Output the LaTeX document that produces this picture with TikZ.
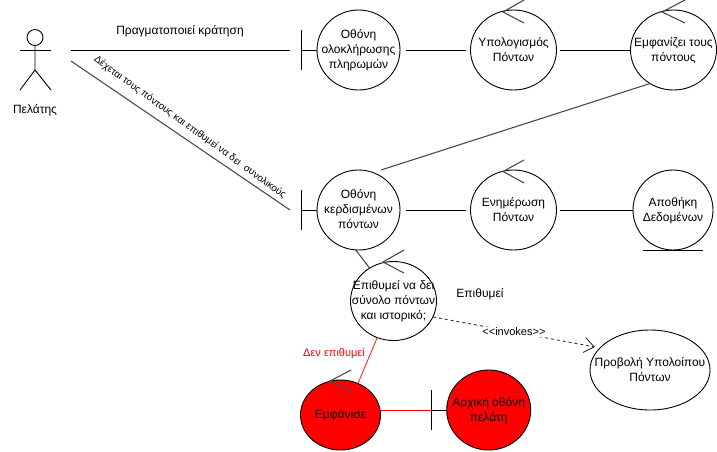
\documentclass[tikz,border=0pt]{standalone}
\usepackage{fontspec}
\setmainfont{Liberation Sans}
\usepackage{tikz}
\usetikzlibrary{arrows.meta,shapes.geometric}
\newcommand{\ctxt}[1]{\makebox[0pt]{\smash{\raisebox{-3.6pt}{\begin{tabular}{@{}c@{}}#1\end{tabular}}}}}
\tikzset{
    lbl/.style={inner sep=0pt, align=center, font=\fontsize{12}{15}\selectfont},
    ctrl/.style={draw, ellipse, inner sep=0pt, outer sep=0pt, minimum width=86pt, minimum height=80pt, font=\fontsize{12}{15}\selectfont},
    lnk/.style={line width=1.1pt, black!70},
    redfill/.style={fill=red}
}
\begin{document}
\begin{tikzpicture}[x=1pt,y=-1pt,line width=0.9pt]
    \useasboundingbox (0,0) rectangle (717,451);
    % actor
    \draw (35,37.5) circle (8);
    \coordinate (neck) at (35,46);
    \coordinate (hip) at (35,70);
    \draw (neck) -- (hip) -- (20,90);
    \draw (hip) -- (51,90);
    \draw (20,50) -- (51,50);
    \node[lbl] (pelatis) at (35,110.5) {Πελάτης};
    % top row
    \node[ctrl, minimum width=83pt] (oloklirosi) at (358.5,50) {\ctxt{Οθόνη\\ολοκλήρωσης\\πληρωμών}};
    \node[ctrl] (ypologismos) at (513.5,50) {\ctxt{Υπολογισμός\\Πόντων}};
    \node[ctrl] (emfanizei) at (673.5,50) {\ctxt{Εμφανίζει τους\\πόντους}};
    % second row
    \node[ctrl, minimum width=83pt] (kerdismena) at (358.5,210) {\ctxt{Οθόνη\\κερδισμένων\\πόντων}};
    \node[ctrl] (enimerosi) at (513.5,210) {\ctxt{Ενημέρωση\\Πόντων}};
    \node[ctrl, minimum width=80pt] (apothiki) at (673,210) {\ctxt{Αποθήκη\\Δεδομένων}};
    % lower part
    \node[ctrl, minimum height=79pt] (epithymei) at (393.5,301) {\ctxt{Επιθυμεί να δει\\σύνολο πόντων\\και ιστορικό;}};
    \node[ctrl, minimum width=120pt] (provoli) at (650,370) {\ctxt{Προβολή Υπολοίπου\\Πόντων}};
    \node[ctrl, redfill, minimum width=80pt, minimum height=70pt] (emfanise) at (340.5,415) {\ctxt{Εμφάνισε}};
    \node[ctrl, redfill, minimum width=84pt] (arxiki) at (488.7,410) {\ctxt{Αρχική οθόνη\\πελάτη}};
    % boundary bars
    \coordinate (bar1) at (301,50);
    \coordinate (bar2) at (301,210);
    \coordinate (bar3) at (431,410);
    \draw (301,30) -- (301,70);
    \draw (bar1) -- (oloklirosi);
    \draw (301,190) -- (301,230);
    \draw (bar2) -- (kerdismena);
    \draw (431,390) -- (431,430);
    \draw (bar3) -- (arxiki);
    % control arrow heads
    \draw[lnk] (524,0) -- (503,12) -- (524,23);
    \draw[lnk] (685,0) -- (662,12) -- (685,23);
    \draw[lnk] (524,160) -- (503,171.5) -- (524,183);
    \draw[lnk] (404,250) -- (383,262) -- (404,273);
    \draw[lnk] (351,370) -- (330,381) -- (351,390.5);
    \draw (643,250) -- (703,250);
    % connectors
    \coordinate (a1) at (71,50);
    \coordinate (a2) at (290,50);
    \coordinate (b1) at (71,61);
    \coordinate (b2) at (290,210);
    \draw (a1) -- (a2);
    \draw[lnk] (b1) -- (b2);
    \node[lbl] (kratisi) at (180,31) {Πραγματοποιεί κράτηση};
    \node[lbl, rotate=-36, font=\fontsize{10}{12}\selectfont] (dexetai) at (190,127.5) {Δέχεται τους πόντους και επιθυμεί να δει\ \ συνολικούς};
    \coordinate (c1) at (406,50);
    \coordinate (c2) at (466,50);
    \coordinate (c3) at (560,50);
    \coordinate (d1) at (406,210);
    \coordinate (d2) at (466,210);
    \coordinate (d3) at (560,210);
    \coordinate (e1) at (381,170);
    \draw (c1) -- (c2);
    \draw (c3) -- (emfanizei.west);
    \draw (d1) -- (d2);
    \draw (d3) -- (apothiki.west);
    \draw[lnk] (emfanizei.-125) -- (e1);
    \draw[lnk] (kerdismena.-94) -- (epithymei.126);
    % dashed invoke
    \coordinate (inv) at (595,347);
    \draw[dashed, line width=0.9pt, black!80, -{Straight Barb[length=10pt,width=15pt]}] (epithymei.-22) -- (inv) node[midway, fill=white, text=black, inner sep=1pt, font=\fontsize{11}{13}\selectfont] (invokes) {{<}{<}invokes{>}{>}};
    \node[lbl] (epithymeilbl) at (480,294.5) {Επιθυμεί};
    % red path
    \draw[red!85!white] (epithymei.-114) -- (emfanise.61);
    \node[lbl, red, font=\fontsize{11}{13}\selectfont] (denlbl) at (334,353) {Δεν επιθυμεί};
    \draw[red] (emfanise.east |- bar3) -- (bar3);
\end{tikzpicture}
\end{document}
